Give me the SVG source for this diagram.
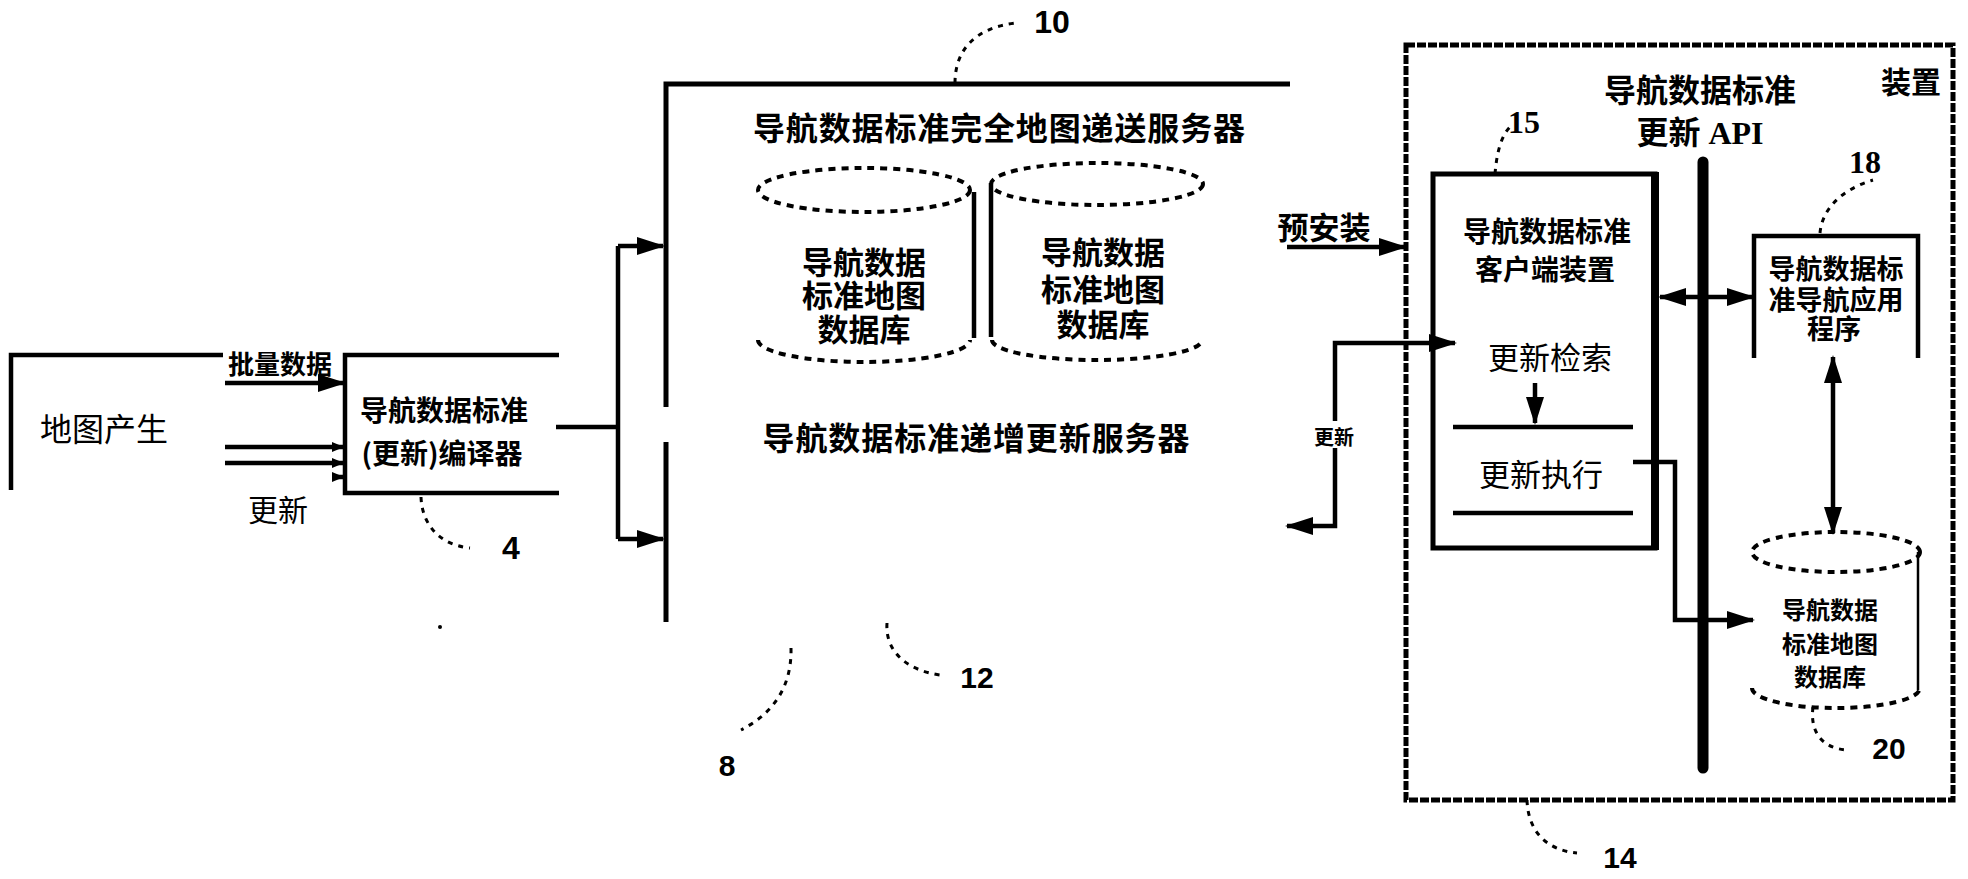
<svg xmlns="http://www.w3.org/2000/svg" width="1968" height="879" viewBox="0 0 1968 879">
<defs>
<style>
.bg{fill:#fff}
.ln{fill:none;stroke:#000;stroke-width:4.5}
.thick{fill:none;stroke:#000;stroke-width:5}
.dash{fill:none;stroke:#000;stroke-width:4;stroke-dasharray:7 6}
.lead{fill:none;stroke:#000;stroke-width:3;stroke-dasharray:5 6}
.dev{fill:none;stroke:#000;stroke-width:5;stroke-dasharray:9 2}
.t{font-family:"Noto Sans CJK SC","Liberation Sans",sans-serif;fill:#000;text-anchor:middle;dominant-baseline:central}
.b{font-weight:bold}
.num{font-family:"Liberation Sans",sans-serif;font-weight:bold;fill:#000;text-anchor:middle;dominant-baseline:central}
.snum{font-family:"Liberation Serif",serif;font-weight:bold;fill:#000;text-anchor:middle;dominant-baseline:central}
</style>
<marker id="ah" markerUnits="userSpaceOnUse" markerWidth="28" markerHeight="18" refX="26" refY="9" orient="auto-start-reverse">
<path d="M0,0 L28,9 L0,18 z" fill="#000"/>
</marker>
<marker id="sh" markerUnits="userSpaceOnUse" markerWidth="12" markerHeight="10" refX="12" refY="5" orient="auto">
<path d="M0,0 L12,5 L0,10 z" fill="#000"/>
</marker>
</defs>
<rect class="bg" x="0" y="0" width="1968" height="879"/>

<g id="map-gen">
<path class="ln" d="M223,355 H11 V490"/>
<text class="t" x="104" y="427" font-size="32">地图产生</text>
</g>

<g id="compiler">
<path class="ln" d="M559,355 H345 V493 H559"/>
<text class="t b" x="444" y="409" font-size="28">导航数据标准</text>
<text class="t b" x="442" y="452" font-size="28">(更新)编译器</text>
</g>

<g id="server">
<path class="thick" d="M1290,84 H666 V407"/>
<path class="thick" d="M666,442 V622"/>
<text class="t b" x="999" y="126" font-size="32" textLength="492" lengthAdjust="spacing">导航数据标准完全地图递送服务器</text>
<text class="t b" x="976" y="436" font-size="32" textLength="427" lengthAdjust="spacing">导航数据标准递增更新服务器</text>
</g>

<g id="db-left">
<ellipse class="dash" cx="864" cy="190" rx="106" ry="22"/>
<line class="ln" x1="974" y1="192" x2="974" y2="338"/>
<path class="dash" d="M758,340 A106,22 0 0 0 970,340"/>
<text class="t b" x="864" y="260" font-size="31">导航数据</text>
<text class="t b" x="864" y="293" font-size="31">标准地图</text>
<text class="t b" x="864" y="327" font-size="31">数据库</text>
</g>

<g id="db-right">
<ellipse class="dash" cx="1097" cy="184" rx="106" ry="21"/>
<line class="ln" x1="991" y1="183" x2="991" y2="337"/>
<path class="dash" d="M992,340 A105,20 0 0 0 1202,340"/>
<text class="t b" x="1103" y="250" font-size="31">导航数据</text>
<text class="t b" x="1103" y="287" font-size="31">标准地图</text>
<text class="t b" x="1103" y="322" font-size="31">数据库</text>
</g>

<g id="device">
<rect class="dev" x="1406" y="45" width="547" height="755"/>
<text class="t b" x="1911" y="80" font-size="30">装置</text>
</g>

<g id="api">
<line x1="1703" y1="162" x2="1703" y2="768" stroke="#000" stroke-width="11" stroke-linecap="round"/>
<text class="t b" x="1700" y="88" font-size="32">导航数据标准</text>
<text class="b" x="1700" y="133" font-size="32" font-family="Liberation Serif, Noto Sans CJK SC, serif" text-anchor="middle" dominant-baseline="central">更新 API</text>
</g>

<g id="client">
<rect class="thick" x="1433" y="174" width="222" height="374"/>
<line x1="1655" y1="172" x2="1655" y2="550" stroke="#000" stroke-width="8"/>
<text class="t b" x="1547" y="230" font-size="28">导航数据标准</text>
<text class="t b" x="1545" y="268" font-size="28">客户端装置</text>
<text class="t" x="1550" y="355" font-size="31">更新检索</text>
<line class="ln" x1="1453" y1="427" x2="1633" y2="427"/>
<text class="t" x="1541" y="472" font-size="31">更新执行</text>
<line class="ln" x1="1453" y1="513" x2="1633" y2="513"/>
</g>

<g id="app">
<path class="ln" d="M1754,358 V236 H1918 V358"/>
<text class="t b" x="1836" y="267" font-size="27">导航数据标</text>
<text class="t b" x="1836" y="298" font-size="27">准导航应用</text>
<text class="t b" x="1834" y="327" font-size="27">程序</text>
</g>

<g id="db-device">
<ellipse class="dash" cx="1836" cy="552" rx="84" ry="20"/>
<line x1="1918" y1="552" x2="1918" y2="690" stroke="#000" stroke-width="2.5"/>
<path class="dash" d="M1752,688 A84,20 0 0 0 1920,688"/>
<text class="t b" x="1830" y="608" font-size="24">导航数据</text>
<text class="t b" x="1830" y="642" font-size="24">标准地图</text>
<text class="t b" x="1830" y="675" font-size="24">数据库</text>
</g>

<g id="connectors">
<path class="ln" d="M225,383 H344" marker-end="url(#ah)"/>
<path class="ln" d="M225,447 H344" marker-end="url(#sh)"/>
<path class="ln" d="M225,463 H344" marker-end="url(#sh)"/>
<path class="ln" d="M332,477 H344" marker-end="url(#sh)"/>
<path class="ln" d="M556,427 H618"/>
<path class="ln" d="M618,246 V539"/>
<path class="ln" d="M618,246 H663" marker-end="url(#ah)"/>
<path class="ln" d="M618,539 H663" marker-end="url(#ah)"/>
<path class="ln" d="M1287,247 H1405" marker-end="url(#ah)"/>
<path class="ln" d="M1335,421 V343 H1455" marker-end="url(#ah)"/>
<path class="ln" d="M1335,448 V526 H1287" marker-end="url(#ah)"/>
<path class="ln" d="M1535,383 V423" marker-end="url(#ah)"/>
<path class="ln" d="M1660,297 H1753" marker-start="url(#ah)" marker-end="url(#ah)"/>
<path class="ln" d="M1833,357 V533" marker-start="url(#ah)" marker-end="url(#ah)"/>
<path class="ln" d="M1633,462 H1675 V620 H1753" marker-end="url(#ah)"/>
</g>

<g id="labels">
<text class="t b" x="280" y="362" font-size="26">批量数据</text>
<text class="t" x="278" y="508" font-size="30">更新</text>
<text class="t b" x="1324" y="225" font-size="31">预安装</text>
<text class="t b" x="1334" y="436" font-size="20">更新</text>
<circle cx="440" cy="627" r="2" fill="#000"/>
</g>

<g id="leaders">
<path class="lead" d="M955,83 C955,50 975,28 1015,23"/>
<path class="lead" d="M421,497 C422,525 440,545 470,548"/>
<path class="lead" d="M791,648 C792,690 770,715 741,730"/>
<path class="lead" d="M887,623 C885,650 905,670 940,675"/>
<path class="lead" d="M1495,174 C1497,150 1502,135 1510,127"/>
<path class="lead" d="M1820,233 C1822,210 1840,190 1873,180"/>
<path class="lead" d="M1813,707 C1810,730 1820,748 1847,750"/>
<path class="lead" d="M1527,800 C1528,830 1545,850 1577,853"/>
<text class="num" x="1052" y="22" font-size="32">10</text>
<text class="num" x="511" y="548" font-size="32">4</text>
<text class="num" x="727" y="765" font-size="30">8</text>
<text class="num" x="977" y="677" font-size="30">12</text>
<text class="snum" x="1524" y="122" font-size="32">15</text>
<text class="snum" x="1865" y="162" font-size="32">18</text>
<text class="num" x="1889" y="748" font-size="30">20</text>
<text class="num" x="1620" y="857" font-size="30">14</text>
</g>
</svg>
